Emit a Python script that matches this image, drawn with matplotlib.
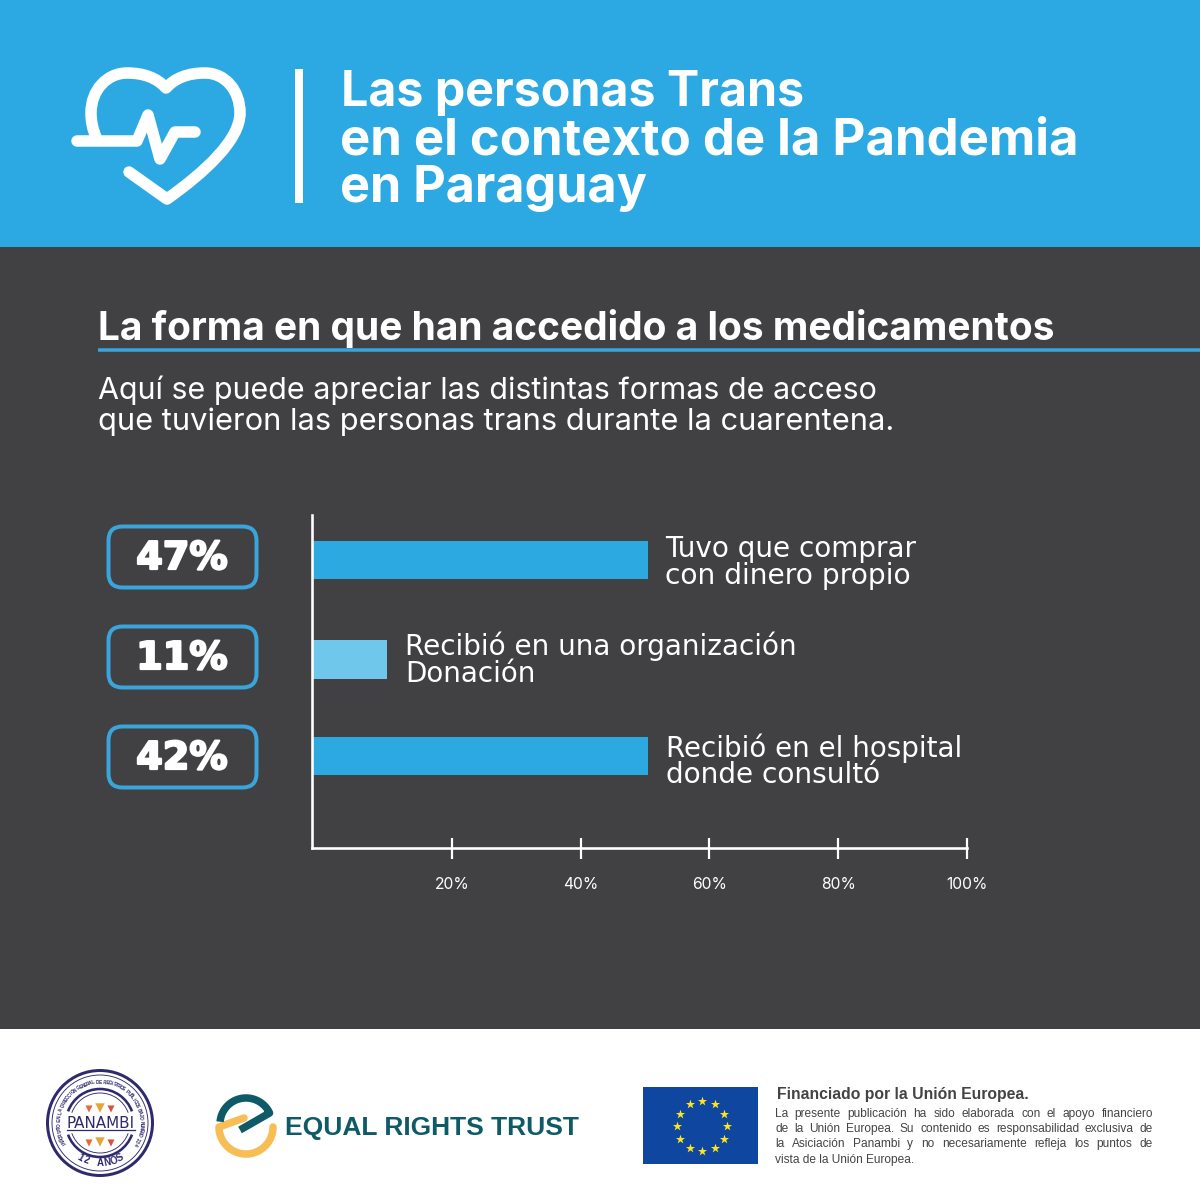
import numpy as np
import matplotlib
matplotlib.use("Agg")
import matplotlib.pyplot as plt
from matplotlib.patches import Rectangle, FancyBboxPatch, PathPatch, Circle, Arc
from matplotlib.path import Path
import matplotlib.patheffects as pe

# ---- data ----
percent_labels = ["47%", "11%", "42%"]
drawn_values = [50.5, 9.9, 50.5]          # bar lengths as actually drawn against the axis
bar_shades = ["#2CA9E1", "#6FC7EB", "#2CA9E1"]
category_lines = [["Tuvo que comprar", "con dinero propio"],
                  ["Recibió en una organización", "Donación"],
                  ["Recibió en el hospital", "donde consultó"]]
tick_values = [20, 40, 60, 80, 100]
tick_labels = ["20%", "40%", "60%", "80%", "100%"]
row_positions = [0, 1.015, 2]

title_lines = ["Las personas Trans", "en el contexto de la Pandemia", "en Paraguay"]
heading = "La forma en que han accedido a los medicamentos"
intro_lines = ["Aquí se puede apreciar las distintas formas de acceso",
               "que tuvieron las personas trans durante la cuarentena."]
eu_title = "Financiado por la Unión Europea."
eu_lines = ["La presente publicación ha sido elaborada con el apoyo financiero",
            "de la Unión Europea. Su contenido es responsabilidad exclusiva de",
            "la Asiciación Panambi y no necesariamente refleja los puntos de",
            "vista de la Unión Europea."]
ring_text = "INSCRIPTO EN LA DIRECCION GENERAL DE REGISTROS PUBLICOS BAJO NUMERO 234"

BLUE = "#2CA9E2"; DARK = "#414042"; EDGE = "#3AA5DB"; NAVY = "#2F2A6E"
TEAL = "#0E5A67"; YELLOW = "#F6BE55"; EUBLUE = "#0F47A0"
SANS = "Inter"
WIDE = "DejaVu Sans"
ARIAL = "Liberation Sans"
PX = 0.72  # points per pixel at 100 dpi

fig = plt.figure(figsize=(12, 12), dpi=100, facecolor="white")
bg = fig.add_axes([0, 0, 1, 1], zorder=0)
bg.set_xlim(0, 1200); bg.set_ylim(1200, 0); bg.axis("off")
fg = fig.add_axes([0, 0, 1, 1], zorder=3)
fg.set_xlim(0, 1200); fg.set_ylim(1200, 0); fg.axis("off"); fg.patch.set_alpha(0)

bg.add_patch(Rectangle((0, 0), 1200, 247, fc=BLUE, ec="none"))
bg.add_patch(Rectangle((0, 247), 1200, 782, fc=DARK, ec="none"))
renderer = fig.canvas.get_renderer()


def fit(ax, s, x0, x1, y, size=20, scale=1.0, **kw):
    """Text left-aligned at x0 whose size is set so that it ends at x1."""
    t = ax.text(x0, y, s, ha="left", va="center_baseline", fontsize=size, **kw)
    w = t.get_window_extent(renderer).width
    t.set_fontsize(scale * size * (x1 - x0) / w)
    return t


# ---- header ----
title_x = [(341, 806, 88), (340, 1081, 136), (340, 648, 184)]
for s, (a, b, y) in zip(title_lines, title_x):
    fit(fg, s, a, b, y, color="white", family=SANS, weight="bold")
fg.add_patch(Rectangle((294.5, 69), 8, 134, fc="white", ec="none"))

heart = Path([(129, 172), (167, 199), (167, 199), (205, 172), (240, 140), (240, 113),
              (240, 90), (225, 73), (205, 73), (188, 73), (175, 78), (166, 88),
              (157, 78), (144, 73), (127, 73), (107, 73), (91, 90), (91, 113),
              (91, 122), (93, 130), (96, 137)],
             [Path.MOVETO, Path.LINETO, Path.LINETO, Path.CURVE4, Path.CURVE4, Path.CURVE4,
              Path.CURVE4, Path.CURVE4, Path.CURVE4, Path.CURVE4, Path.CURVE4, Path.CURVE4,
              Path.CURVE4, Path.CURVE4, Path.CURVE4, Path.CURVE4, Path.CURVE4, Path.CURVE4,
              Path.CURVE4, Path.CURVE4, Path.CURVE4])
pulse = Path([(77, 141), (137, 141), (148, 115), (160, 159), (175, 132), (195, 132)])
for p in (heart, pulse):
    fg.add_patch(PathPatch(p, fc="none", ec="white", lw=11.5 * PX, capstyle="round", joinstyle="round"))

# ---- heading ----
fit(fg, heading, 98, 1058, 324, color="white", family=SANS, weight="bold")
fg.plot([98, 1200], [350, 350], color=EDGE, lw=3.5 * PX, solid_capstyle="butt")
fit(fg, intro_lines[0], 98, 877, 387, color="white", family=SANS)
fit(fg, intro_lines[1], 98, 893, 419, color="white", family=SANS)

# ---- chart ----
ax = fig.add_axes([312 / 1200, 1 - 848 / 1200, (967 - 312) / 1200, (848 - 515) / 1200], zorder=2)
ax.patch.set_alpha(0)
x_start = -1.7
ax.set_xlim(x_start, 100)
ax.set_ylim(2.94, -0.46)
ax.barh(row_positions, [v - x_start for v in drawn_values], left=x_start, height=0.395,
        color=bar_shades, edgecolor="none")
ax.set_xticks(tick_values, tick_labels)
ax.set_yticks([])
for side in ("top", "right"):
    ax.spines[side].set_visible(False)
for side in ("left", "bottom"):
    ax.spines[side].set_color("white")
    ax.spines[side].set_linewidth(2.6 * PX)
ax.tick_params(axis="x", direction="inout", length=21 * PX, width=2.2 * PX, color="white",
               labelcolor="white", labelsize=11.3, pad=13.5)
for lab in ax.get_xticklabels():
    lab.set_family(SANS)

label_x = [[(665, 927, 546), (665, 921, 573)],
           [(405, 814, 643), (405, 541, 671)],
           [(666, 975, 745), (666, 890, 772)]]
for lines, boxes in zip(category_lines, label_x):
    for s, (a, b, y) in zip(lines, boxes):
        fit(fg, s, a, b, y, scale=0.96, color="white", family=WIDE)

for s, top in zip(percent_labels, [525, 625, 725]):
    fg.add_patch(FancyBboxPatch((108.5, top + 1.5), 148, 61,
                                boxstyle="round,pad=0,rounding_size=14",
                                fc="none", ec=EDGE, lw=4 * PX))
    fg.text(182, top + 34, s, ha="center", va="center", color="white", family="DejaVu Sans",
            weight="bold", fontsize=27.5,
            path_effects=[pe.withStroke(linewidth=1.6, foreground="white")])

# ---- Panambi seal ----
cx, cy = 100, 1123
fg.add_patch(Circle((cx, cy), 52.5, fc="none", ec=NAVY, lw=3.0 * PX))
fg.add_patch(Circle((cx, cy), 48, fc="none", ec=NAVY, lw=0.9 * PX))
for (d, lw) in ((68, 2.6), (60, 0.9)):
    fg.add_patch(Arc((cx, cy), d, d, theta1=200, theta2=340, ec=NAVY, lw=lw * PX))
    fg.add_patch(Arc((cx, cy), d, d, theta1=20, theta2=160, ec=NAVY, lw=lw * PX))
t = fit(fg, "PANAMBI", 67, 135, 1122, color=NAVY, family=WIDE)
fg.plot([67, 135], [1130, 1130], color=NAVY, lw=0.9)
for y in (1109, 1143):
    fg.scatter([89, 100, 111], [y, y - 1, y], marker="v", s=[26, 46, 26],
               c=["#E8683A", "#E8A43A", "#D9533A"], linewidths=0)
n = len(ring_text)
for i, ch in enumerate(ring_text):
    ang = np.deg2rad(210 - i * 240 / (n - 1))
    fg.text(cx + 41 * np.cos(ang), cy - 41 * np.sin(ang), ch, color=NAVY, family=ARIAL,
            weight="bold", fontsize=3.4, ha="center", va="center",
            rotation=np.rad2deg(ang) - 90)
for ch, deg in zip("12 AÑOS", np.linspace(240, 300, 7)):
    ang = np.deg2rad(deg)
    fg.text(cx + 40 * np.cos(ang), cy - 40 * np.sin(ang), ch, color=NAVY, family=ARIAL,
            weight="bold", fontsize=7, ha="center", va="center", rotation=deg - 270)


# ---- Equal Rights Trust logo ----
def arc_points(xc, yc, r, a0, a1):
    th = np.deg2rad(np.linspace(a0, a1, 60))
    return np.column_stack([xc + r * np.cos(th), yc - r * np.sin(th)])


teal_pts = np.vstack([arc_points(246, 1124, 26, 175, 25), [[240, 1130]]])
yellow_pts = np.vstack([[[244, 1118]], arc_points(246, 1127, 27, 180, 360)])
fg.add_patch(PathPatch(Path(yellow_pts), fc="none", ec=YELLOW, lw=7.5 * PX, capstyle="round", joinstyle="round"))
fg.add_patch(PathPatch(Path(teal_pts), fc="none", ec=TEAL, lw=7.5 * PX, capstyle="butt", joinstyle="round"))
fit(fg, "EQUAL RIGHTS TRUST", 285, 579, 1125, color=TEAL, family=ARIAL, weight="bold")

# ---- EU flag and text ----
fg.add_patch(Rectangle((643, 1087), 115, 77, fc=EUBLUE, ec="none"))
ang = np.deg2rad(np.arange(0, 360, 30))
fg.scatter(702 + 25 * np.cos(ang), 1126 + 25 * np.sin(ang), marker="*", s=48, c="#FFE51F", linewidths=0)
fit(fg, eu_title, 777, 1027, 1093, color="#444444", family=ARIAL, weight="bold")


def justified(s, x0, x1, y, stretch=True):
    size = 8.55
    if not stretch:
        fg.text(x0, y, s, ha="left", va="baseline", color="#444444", family=ARIAL, fontsize=size)
        return
    words = s.split(" ")
    arts = [fg.text(x0, y, w, ha="left", va="baseline", color="#444444", family=ARIAL, fontsize=size)
            for w in words]
    widths = [a.get_window_extent(renderer).width for a in arts]
    gap = (x1 - x0 - sum(widths)) / (len(words) - 1)
    x = x0
    for a, w in zip(arts, widths):
        a.set_x(x)
        x += w + gap


for i, (line, y) in enumerate(zip(eu_lines, [1117, 1132, 1147, 1163])):
    justified(line, 775, 1153, y, stretch=i < 3)

fig.savefig("out.png", dpi=100, facecolor="white")
